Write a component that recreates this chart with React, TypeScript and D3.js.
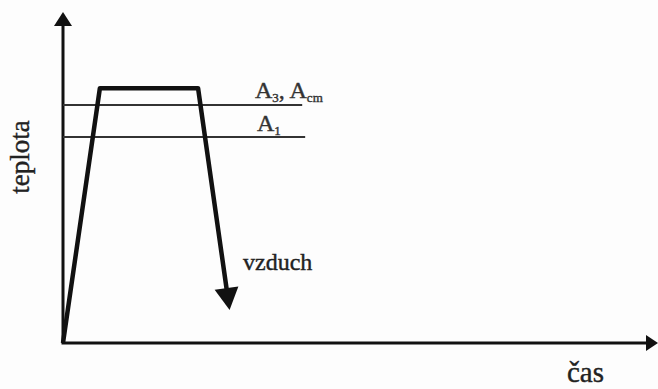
import React from "react";
import * as d3 from "d3";

// time (x) and temperature (y) in arbitrary units
const curveTime = [0, 6.2, 22.7, 28.0];
const curveTemp = [0, 77, 77, 10];
const criticalNames = ["A3", "A1"];
const criticalTemps = [71.9, 62.2];
const criticalEnds = [40.2, 40.7];
const axisLabels = { x: "čas", y: "teplota" };
const coolingLabel = "vzduch";

const W = 658;
const H = 389;
const FONT = "'Liberation Serif', 'Times New Roman', serif";

export default function App() {
  const x = d3.scaleLinear().domain([0, 100]).range([63, 658]);
  const y = d3.scaleLinear().domain([0, 100]).range([343, 12]);

  const pts: [number, number][] = curveTime.map((t, i) => [x(t), y(curveTemp[i])]);
  const n = pts.length;
  const [ax, ay] = pts[n - 2];
  const [bx, by] = pts[n - 1];
  const len = Math.hypot(bx - ax, by - ay);
  const ux = (bx - ax) / len;
  const uy = (by - ay) / len;
  const headLen = 22;
  const headHalf = 12;
  const shaftPts = pts.slice(0, n - 1).concat([[bx - ux * (headLen - 2), by - uy * (headLen - 2)]]);
  const line = d3.line();
  const headBase: [number, number] = [bx - ux * headLen, by - uy * headLen];
  const head = `M${bx},${by} L${headBase[0] - uy * headHalf},${headBase[1] + ux * headHalf} L${headBase[0] + uy * headHalf},${headBase[1] - ux * headHalf} Z`;

  const x0 = x(0);
  const y0 = y(0);
  const yTop = y(100);
  const xEnd = x(100);

  const textStyle = { fontFamily: FONT };

  return (
    <svg
      width={W}
      height={H}
      style={{ position: "absolute", left: 0, top: 0, background: "#fdfdfd" }}
    >
      {/* axes */}
      <line x1={x0} y1={y0} x2={x0} y2={yTop + 12} stroke="#111" strokeWidth={3} />
      <path d={`M${x0},${yTop} L${x0 - 9},${yTop + 14} L${x0 + 9},${yTop + 14} Z`} fill="#111" />
      <line x1={x0 - 1.5} y1={y0} x2={xEnd - 10} y2={y0} stroke="#111" strokeWidth={3} />
      <path d={`M${xEnd},${y0} L${xEnd - 12},${y0 - 8} L${xEnd - 12},${y0 + 8} Z`} fill="#111" />

      {/* critical temperature lines */}
      {criticalTemps.map((T, i) => (
        <line
          key={criticalNames[i]}
          x1={x0}
          x2={x(criticalEnds[i])}
          y1={y(T)}
          y2={y(T)}
          stroke="#333"
          strokeWidth={2}
        />
      ))}

      {/* heat treatment curve */}
      <path
        d={line(shaftPts) || ""}
        fill="none"
        stroke="#111"
        strokeWidth={4.5}
        strokeLinejoin="round"
      />
      <path d={head} fill="#111" />

      {/* labels */}
      <g style={textStyle} stroke="#333" strokeWidth={0.4}>
        <text x={255} y={y(criticalTemps[0]) - 7} fontSize={24} fill="#333">
          A<tspan fontSize={13} dy={4}>3</tspan>
          <tspan dy={-4}>, A</tspan>
          <tspan fontSize={13} dy={4}>cm</tspan>
        </text>
        <text x={257} y={y(criticalTemps[1]) - 6} fontSize={24} fill="#333">
          A<tspan fontSize={13} dy={4}>1</tspan>
        </text>
      </g>
      <g style={textStyle} stroke="#222" strokeWidth={0.4} fill="#222">
        <text x={243} y={270} fontSize={24}>
          {coolingLabel}
        </text>
        <text x={567} y={382} fontSize={29}>
          {axisLabels.x}
        </text>
        <text
          transform={`translate(29,${157}) rotate(-90)`}
          textAnchor="middle"
          fontSize={27}
        >
          {axisLabels.y}
        </text>
      </g>
    </svg>
  );
}
